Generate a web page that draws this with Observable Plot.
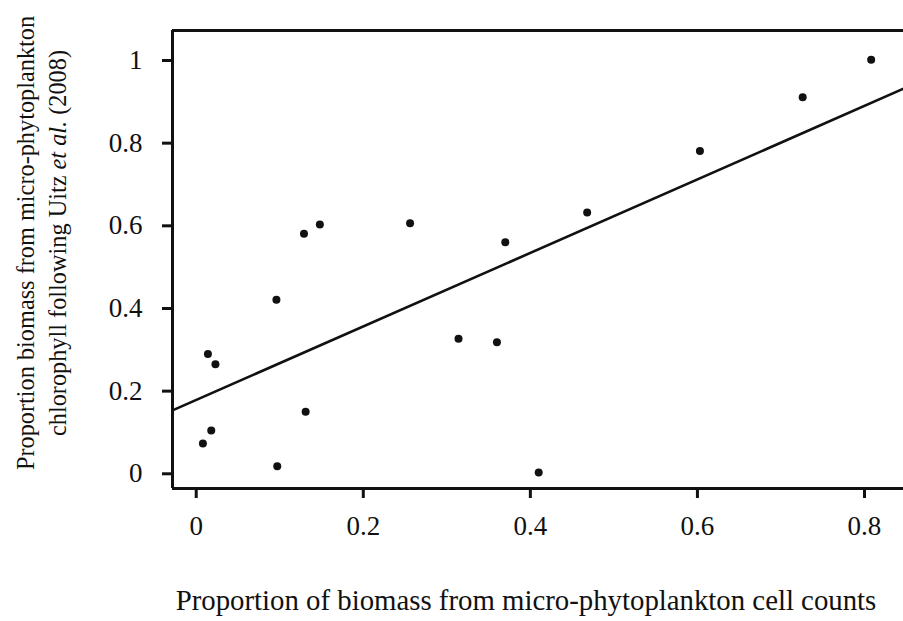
<!DOCTYPE html>
<html>
<head>
<meta charset="utf-8">
<script src="https://cdn.jsdelivr.net/npm/d3@7"></script>
<script src="https://cdn.jsdelivr.net/npm/@observablehq/plot@0.6"></script>
<style>
  html, body { margin: 0; padding: 0; background: #fff; }
  #chart svg { display: block; }
</style>
</head>
<body>
<div id="chart"></div>
<script>
// Proportion of biomass from micro-phytoplankton cell counts
const cellCountProportion = [0.129, 0.148, 0.256, 0.096, 0.014, 0.023, 0.131, 0.018, 0.008, 0.097,
  0.370, 0.468, 0.603, 0.726, 0.808, 0.314, 0.360, 0.410];
// Proportion biomass from micro-phytoplankton chlorophyll following Uitz et al. (2008)
const chlorophyllProportion = [0.581, 0.603, 0.606, 0.421, 0.290, 0.265, 0.150, 0.105, 0.073, 0.018,
  0.560, 0.632, 0.781, 0.911, 1.002, 0.327, 0.318, 0.003];
const xTicks = [0, 0.2, 0.4, 0.6, 0.8];
const yTicks = [0, 0.2, 0.4, 0.6, 0.8, 1];
const xDomain = [-0.0284, 0.8467];
const yDomain = [-0.0356, 1.0726];
const xTitle = "Proportion of biomass from micro-phytoplankton cell counts";
const yTitleLine1 = "Proportion biomass from micro-phytoplankton";
const yTitleLine2 = ["chlorophyll following Uitz ", "et al.", " (2008)"];

const points = cellCountProportion.map((x, i) => ({x, y: chlorophyllProportion[i]}));

// ordinary least squares fit, drawn across the whole frame
const mx = d3.mean(points, d => d.x), my = d3.mean(points, d => d.y);
const slope = d3.sum(points, d => (d.x - mx) * (d.y - my)) / d3.sum(points, d => (d.x - mx) ** 2);
const intercept = my - slope * mx;
const fit = xDomain.map(x => ({x, y: intercept + slope * x}));

const ink = "#111";
const serif = "Liberation Serif";
const fmt = d => String(d);

const chart = Plot.plot({
  width: 903,
  height: 621,
  marginLeft: 172,
  marginRight: 0,
  marginTop: 30,
  marginBottom: 133,
  style: {fontFamily: serif, fontSize: "27px", color: ink},
  x: {domain: xDomain, ticks: xTicks, tickFormat: fmt, tickSize: 10, tickPadding: 17, label: null},
  y: {domain: yDomain, ticks: yTicks, tickFormat: fmt, tickSize: 10, tickPadding: 20, label: null},
  marks: [
    Plot.line(fit, {x: "x", y: "y", stroke: ink, strokeWidth: 2.6}),
    Plot.dot(points, {x: "x", y: "y", r: 4, fill: ink, stroke: "none"}),
    Plot.ruleX([xDomain[0]], {stroke: ink, strokeWidth: 3}),
    Plot.ruleY([yDomain[0], yDomain[1]], {stroke: ink, strokeWidth: 3})
  ]
});
document.getElementById("chart").appendChild(chart);
const svg = d3.select(chart);
svg.selectAll('g[aria-label="x-axis tick"], g[aria-label="y-axis tick"]').attr("stroke-width", 3);

svg.append("text")
  .attr("x", 526).attr("y", 610)
  .attr("text-anchor", "middle")
  .attr("fill", ink)
  .style("font-size", "28.8px")
  .text(xTitle);

const yt = svg.append("g").attr("transform", "translate(0,243) rotate(-90)")
  .attr("fill", ink).style("font-size", "24.3px");
yt.append("text").attr("x", 0).attr("y", 34).attr("text-anchor", "middle").text(yTitleLine1);
const l2 = yt.append("text").attr("x", 0).attr("y", 66).attr("text-anchor", "middle");
yTitleLine2.forEach((s, i) => l2.append("tspan").style("font-style", i === 1 ? "italic" : "normal").text(s));
</script>
</body>
</html>
